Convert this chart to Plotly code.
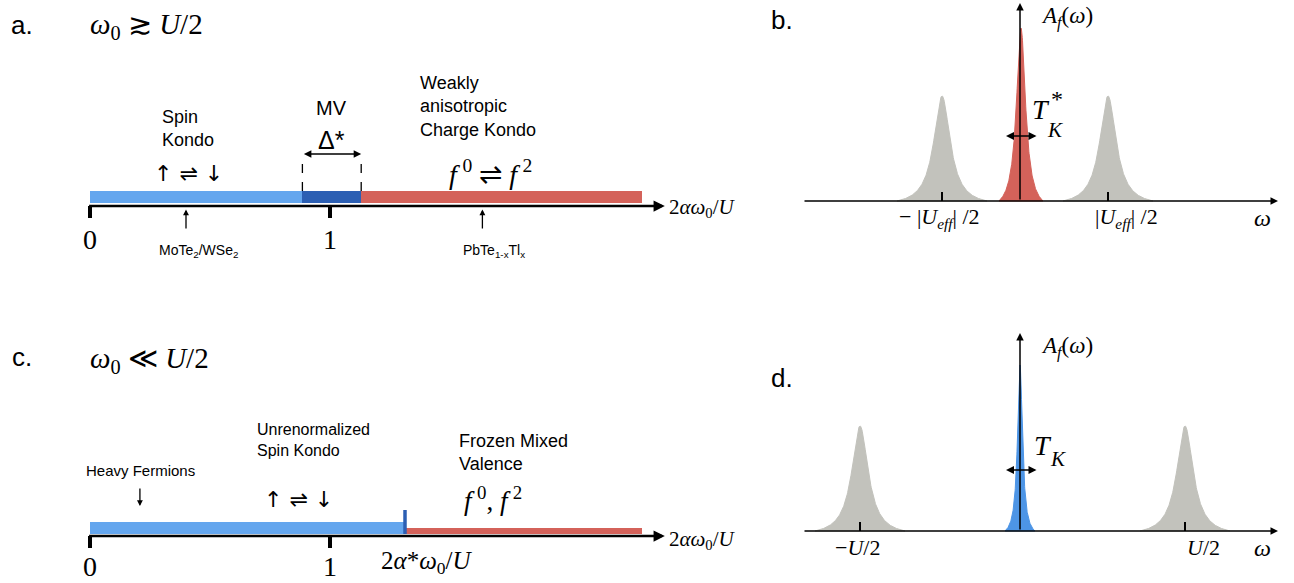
import numpy as np
import plotly.graph_objects as go

W, H = 1294, 583
SANS = "Liberation Sans, Arial, sans-serif"
SERIF = "Liberation Serif, Times New Roman, serif"
ARROWFONT = "DejaVu Sans, sans-serif"

# ---------------- data ----------------
# panel a: regimes along 2*alpha*omega0/U  (start, end)
a_regions = ["Spin Kondo", "MV", "Charge Kondo"]
a_starts = [0.0, 0.885, 1.13]
a_ends = [0.885, 1.13, 2.30]
a_colors = ["#64a6ee", "#2c5fb3", "#d4625a"]
a_ticks = [0, 1]
a_tick_labels = ["0", "1"]
a_materials = ["MoTe<sub>2</sub>/WSe<sub>2</sub>", "PbTe<sub>1-x</sub>Tl<sub>x</sub>"]
a_material_pos = [0.40, 1.635]

# panel c
c_regions = ["Spin Kondo", "Frozen Mixed Valence"]
c_starts = [0.0, 1.3125]
c_ends = [1.3125, 2.30]
c_heights = [0.12, 0.06]
c_colors = ["#64a6ee", "#d4625a"]
c_crossover = 1.3125
c_ticks = [0, 1]
c_tick_labels = ["0", "1"]

# panels b, d: spectral peaks (center, height, width gamma, half-extent)
b_centers = [-0.78, 0.01, 0.88]
b_heights = [1.05, 1.73, 1.05]
b_gammas = [0.10, 0.055, 0.10]
b_extent = [0.45, 0.22, 0.45]
b_colors = ["#c2c2bc", "#d4625a", "#c2c2bc"]
b_tick_pos = [-0.78, 0.88]
b_tick_labels = ["\u2212 |<i>U<sub>eff</sub></i>| /2", "|<i>U<sub>eff</sub></i>| /2"]

d_centers = [-1.60, 0.0, 1.65]
d_heights = [1.05, 1.66, 1.05]
d_gammas = [0.10, 0.03, 0.10]
d_extent = [0.45, 0.15, 0.45]
d_colors = ["#c2c2bc", "#4d95e6", "#c2c2bc"]
d_tick_pos = [-1.60, 1.65]
d_tick_labels = ["\u2212<i>U</i>/2", "<i>U</i>/2"]

# ---------------- layout helpers ----------------
def px_x(a, b):
    return [a / W, b / W]

def px_y(top, bottom):
    return [1 - bottom / H, 1 - top / H]

fig = go.Figure()

layout = dict(
    width=W, height=H, margin=dict(l=0, r=0, t=0, b=0, autoexpand=False),
    paper_bgcolor="white", plot_bgcolor="white", showlegend=False,
    barmode="overlay", bargap=0,
)
# a: x 0 -> px 90, 240 px/unit ; y 0 -> px 206, 100 px/unit
axes = {
    "": (px_x(0, 760), [-90 / 240, (760 - 90) / 240], px_y(0, 290), [(206 - 290) / 100, 206 / 100]),
    "2": (px_x(760, 1294), [(760 - 1020) / 100, (1294 - 1020) / 100], px_y(0, 290), [(201 - 290) / 100, 201 / 100]),
    "3": (px_x(0, 760), [-90 / 240, (760 - 90) / 240], px_y(290, 583), [(536 - 583) / 100, (536 - 290) / 100]),
    "4": (px_x(760, 1294), [(760 - 1020) / 100, (1294 - 1020) / 100], px_y(290, 583), [(531 - 583) / 100, (531 - 290) / 100]),
}
for k, (xd, xr, yd, yr) in axes.items():
    layout["xaxis" + k] = dict(domain=xd, range=xr, visible=False, fixedrange=True,
                               anchor="y" + k)
    layout["yaxis" + k] = dict(domain=yd, range=yr, visible=False, fixedrange=True,
                               anchor="x" + k)
fig.update_layout(**layout)

ann = []

def text(xr, yr, x, y, t, size, font=SANS, xanchor="center", align="center", color="black"):
    ann.append(dict(xref=xr, yref=yr, x=x, y=y, text=t, showarrow=False,
                    font=dict(family=font, size=size, color=color),
                    xanchor=xanchor, yanchor="middle", align=align))

def arrow(xr, yr, x0, y0, x1, y1, width=1.5, head=2, size=1.0, both=False):
    ann.append(dict(xref=xr, yref=yr, axref=xr, ayref=yr, x=x1, y=y1, ax=x0, ay=y0,
                    text="", showarrow=True, arrowhead=head, arrowsize=size,
                    arrowwidth=width, arrowcolor="black", standoff=0, startstandoff=0,
                    arrowside="end+start" if both else "end", startarrowhead=head,
                    startarrowsize=size))

def line(xa, ya, xs, ys, width=2, color="black", dash=None):
    fig.add_trace(go.Scatter(x=xs, y=ys, mode="lines", xaxis=xa, yaxis=ya,
                             line=dict(color=color, width=width, dash=dash),
                             hoverinfo="skip"))

SPIN = "\u2191 \u21cc \u2193"
F = "<i>f</i>\u2009<sup>{}</sup>"

# ---------------- panel a ----------------
for s, e, c in zip(a_starts, a_ends, a_colors):
    fig.add_trace(go.Bar(orientation="h", base=[s], x=[e - s], y=[0.09], width=0.12,
                         marker=dict(color=c, line=dict(width=0)), xaxis="x", yaxis="y",
                         hoverinfo="skip"))
arrow("x", "y", -0.01, 0, 2.395, 0, width=2.5, head=2, size=0.9)
for t, lab in zip(a_ticks, a_tick_labels):
    line("x", "y", [t, t], [0, -0.12], width=4)
    text("x", "y", t, -0.33, lab, 28, SERIF)
for xm in a_starts[1:3]:
    line("x", "y", [xm, xm], [0.15, 0.45], width=1.3, dash="dash")
arrow("x", "y", a_starts[1], 0.52, a_ends[1], 0.52, width=1.5, head=2, size=1.0, both=True)
text("x", "y", 1.008, 0.665, "\u0394*", 25, SANS)
text("x", "y", 1.008, 0.98, "MV", 20, SANS)
text("x", "y", 0.29, 0.78, "Spin<br>Kondo", 18, SANS, xanchor="left", align="left")
text("x", "y", 0.41, 0.33, SPIN, 22, ARROWFONT)
text("x", "y", 1.367, 1.00, "Weakly<br>anisotropic<br>Charge Kondo", 18, SANS,
     xanchor="left", align="left")
text("x", "y", 1.667, 0.34, F.format(0) + " \u21cc " + F.format(2), 28, SERIF)
for xm, lab in zip(a_material_pos, a_materials):
    arrow("x", "y", xm, -0.24, xm, -0.035, width=1.3, head=2, size=0.9)
    text("x", "y", xm + 0.05, -0.45, lab, 14, SANS)
text("x", "y", 2.404, -0.02, "2<i>\u03b1\u03c9</i><sub>0</sub>/<i>U</i>", 21, SERIF, xanchor="left")
text("x", "y", -0.285, 1.81, "a.", 26, SANS)
text("x", "y", -0.008, 1.80, "<i>\u03c9</i><sub>0</sub> \u2273 <i>U</i>/2", 29, SERIF, xanchor="left")

# ---------------- panel c ----------------
for s, e, h, c in zip(c_starts, c_ends, c_heights, c_colors):
    fig.add_trace(go.Bar(orientation="h", base=[s], x=[e - s], y=[0.02 + h / 2], width=h,
                         marker=dict(color=c, line=dict(width=0)), xaxis="x3", yaxis="y3",
                         hoverinfo="skip"))
line("x3", "y3", [c_crossover, c_crossover], [0.02, 0.26], width=3.5, color="#2c5fb3")
arrow("x3", "y3", -0.01, 0, 2.395, 0, width=2.5, head=2, size=0.9)
for t, lab in zip(c_ticks, c_tick_labels):
    line("x3", "y3", [t, t], [0, -0.12], width=4)
    text("x3", "y3", t, -0.30, lab, 28, SERIF)
text("x3", "y3", 1.40, -0.265, "2<i>\u03b1</i>*<i>\u03c9</i><sub>0</sub>/<i>U</i>", 25, SERIF)
text("x3", "y3", 2.404, -0.04, "2<i>\u03b1\u03c9</i><sub>0</sub>/<i>U</i>", 21, SERIF, xanchor="left")
text("x3", "y3", 0.21, 0.66, "Heavy Fermions", 15, SANS)
arrow("x3", "y3", 0.208, 0.49, 0.208, 0.30, width=1.3, head=2, size=0.9)
text("x3", "y3", 0.6875, 0.96, "Unrenormalized<br>Spin Kondo", 16, SANS, xanchor="left", align="left")
text("x3", "y3", 0.87, 0.37, SPIN, 22, ARROWFONT)
text("x3", "y3", 1.529, 0.84, "Frozen Mixed<br>Valence", 18, SANS, xanchor="left", align="left")
text("x3", "y3", 1.68, 0.37, F.format(0) + ", " + F.format(2), 27, SERIF)
text("x3", "y3", -0.285, 1.79, "c.", 26, SANS)
text("x3", "y3", -0.008, 1.76, "<i>\u03c9</i><sub>0</sub> \u226a <i>U</i>/2", 29, SERIF, xanchor="left")

# ---------------- spectral panels ----------------
def peak(x0, h, g, ext, n=241):
    xs = np.linspace(x0 - ext, x0 + ext, n)
    lor = 1.0 / (1.0 + ((xs - x0) / g) ** 2)
    edge = 1.0 / (1.0 + (ext / g) ** 2)
    ys = h * (lor - edge) / (1 - edge)
    return np.concatenate([xs, xs[::-1]]), np.concatenate([ys, np.zeros(n)])

def spectral(xa, ya, centers, heights, gammas, exts, colors, tick_pos, tick_labels,
             arr_y, letter, letter_y):
    for x0, h, g, e, c in zip(centers, heights, gammas, exts, colors):
        xs, ys = peak(x0, h, g, e)
        fig.add_trace(go.Scatter(x=xs, y=ys, mode="lines", fill="toself", fillcolor=c,
                                 line=dict(color=c, width=1), xaxis=xa, yaxis=ya,
                                 hoverinfo="skip"))
    arrow(xa, ya, -2.17, 0, 2.58, 0, width=1.5, head=2, size=1.0)
    arrow(xa, ya, 0, 0, 0, 1.98, width=1.5, head=2, size=1.0)
    for tp, tl in zip(tick_pos, tick_labels):
        line(xa, ya, [tp, tp], [0, 0.09], width=2)
        text(xa, ya, tp + (0.18 if tp > 0 else -0.03), -0.165, tl, 22, SERIF)
    text(xa, ya, 2.42, -0.165, "<i>\u03c9</i>", 24, SERIF)
    text(xa, ya, 0.19, 1.84, "<i>A<sub>f</sub></i>(<i>\u03c9</i>)", 23, SERIF, xanchor="left")
    arrow(xa, ya, -0.155, arr_y, 0.165, arr_y, width=1.6, head=2, size=1.0, both=True)
    text(xa, ya, -2.38, letter_y, letter, 26, SANS)

spectral("x2", "y2", b_centers, b_heights, b_gammas, b_extent, b_colors, b_tick_pos,
         b_tick_labels, 0.65, "b.", 1.81)
# T*_K label (b)
text("x2", "y2", 0.10, 0.92, "<i>T</i>", 28, SERIF, xanchor="left")
text("x2", "y2", 0.29, 1.02, "*", 24, SERIF, xanchor="left")
text("x2", "y2", 0.245, 0.71, "<i>K</i>", 21, SERIF, xanchor="left")

spectral("x4", "y4", d_centers, d_heights, d_gammas, d_extent, d_colors, d_tick_pos,
         d_tick_labels, 0.61, "d.", 1.53)
# T_K label (d)
text("x4", "y4", 0.12, 0.86, "<i>T</i>", 28, SERIF, xanchor="left")
text("x4", "y4", 0.275, 0.72, "<i>K</i>", 21, SERIF, xanchor="left")

fig.update_layout(annotations=ann)
fig.write_html("out.html", config={"displayModeBar": False},
               post_script="document.body.style.margin='0';document.body.style.padding='0';")
